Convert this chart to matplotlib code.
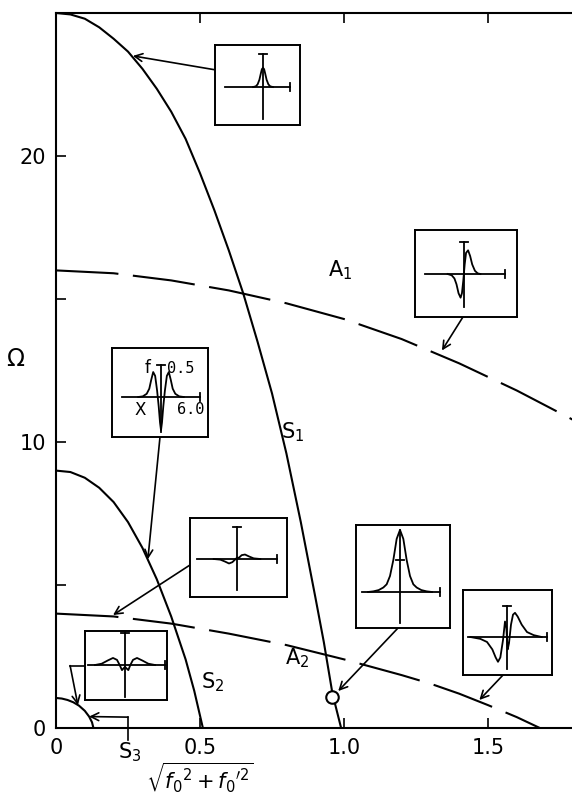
import matplotlib.pyplot as plt

# dispersion branches: sqrt(f0^2 + f0'^2) vs Omega
s1_x = [0.0, 0.05, 0.1, 0.15, 0.2, 0.25, 0.3, 0.35, 0.4, 0.45, 0.5, 0.55, 0.6, 0.65, 0.7, 0.75, 0.8, 0.85, 0.9, 0.93, 0.96, 0.99]
s1_y = [25.0, 24.95, 24.8, 24.5, 24.1, 23.65, 23.05, 22.35, 21.55, 20.6, 19.4, 18.1, 16.7, 15.2, 13.5, 11.7, 9.6, 7.2, 4.6, 3.0, 1.2, 0.0]
a1_x = [0.0, 0.2, 0.4, 0.6, 0.8, 1.0, 1.2, 1.4, 1.6, 1.8]
a1_y = [16.0, 15.9, 15.65, 15.3, 14.85, 14.3, 13.6, 12.75, 11.8, 10.75]
s2_x = [0.0, 0.05, 0.1, 0.15, 0.2, 0.25, 0.3, 0.35, 0.4, 0.45, 0.48, 0.51]
s2_y = [9.0, 8.95, 8.75, 8.4, 7.9, 7.2, 6.3, 5.2, 3.9, 2.4, 1.3, 0.0]
a2_x = [0.0, 0.2, 0.4, 0.6, 0.8, 1.0, 1.2, 1.3, 1.4, 1.5, 1.6, 1.68]
a2_y = [4.0, 3.9, 3.65, 3.3, 2.9, 2.4, 1.85, 1.55, 1.2, 0.8, 0.38, 0.0]
s3_x = [0.0, 0.02, 0.04, 0.06, 0.08, 0.1, 0.115, 0.125, 0.13]
s3_y = [1.05, 1.03, 0.98, 0.9, 0.78, 0.6, 0.4, 0.2, 0.0]

# profiles shown in the small boxes (x in units of 6.0 per axis, f with cap at 0.5)
p1_x = [-2.2, -1.6, -1.2, -0.8, -0.5, -0.25, 0.0, 0.25, 0.5, 0.8, 1.2, 1.6, 2.2]
p1_f = [0.0, 0.01, 0.04, 0.11, 0.2, 0.27, 0.29, 0.27, 0.2, 0.11, 0.04, 0.01, 0.0]
p2_x = [-2.4, -1.8, -1.4, -1.1, -0.8, -0.5, -0.3, -0.1, 0.1, 0.3, 0.6, 0.9, 1.2, 1.6, 2.0, 2.4]
p2_f = [0.0, -0.02, -0.07, -0.16, -0.3, -0.37, -0.3, -0.1, 0.15, 0.33, 0.37, 0.28, 0.15, 0.05, 0.01, 0.0]
p3_x = [-3.5, -2.8, -2.2, -1.8, -1.5, -1.2, -0.9, -0.6, -0.35, -0.15, 0.0, 0.15, 0.35, 0.6, 0.9, 1.2, 1.5, 1.8, 2.2, 2.8, 3.5]
p3_f = [0.0, 0.01, 0.05, 0.13, 0.27, 0.39, 0.33, 0.1, -0.15, -0.4, -0.52, -0.4, -0.15, 0.1, 0.33, 0.39, 0.27, 0.13, 0.05, 0.01, 0.0]
p4_x = [-3.5, -2.5, -1.8, -1.2, -0.7, -0.3, 0.0, 0.3, 0.7, 1.2, 1.8, 2.5, 3.5]
p4_f = [0.0, -0.01, -0.04, -0.07, -0.05, -0.01, 0.02, 0.02, 0.06, 0.07, 0.04, 0.01, 0.0]
p5_x = [-4.5, -3.5, -2.6, -1.8, -1.2, -0.8, -0.45, -0.2, 0.0, 0.2, 0.5, 0.8, 1.2, 1.8, 2.6, 3.5, 4.5]
p5_f = [0.0, 0.02, 0.07, 0.11, 0.08, 0.0, -0.08, -0.05, -0.03, -0.05, -0.08, 0.0, 0.08, 0.11, 0.07, 0.02, 0.0]
p6_x = [-4.8, -4.0, -3.2, -2.5, -2.0, -1.5, -1.0, -0.5, 0.0, 0.5, 1.0, 1.5, 2.0, 2.5, 3.2, 4.0, 4.8]
p6_f = [0.0, 0.01, 0.03, 0.07, 0.12, 0.25, 0.5, 0.83, 0.97, 0.83, 0.5, 0.25, 0.12, 0.07, 0.03, 0.01, 0.0]
p7_x = [-5.5, -4.0, -3.0, -2.2, -1.7, -1.35, -1.0, -0.6, -0.3, -0.1, 0.1, 0.3, 0.6, 0.9, 1.2, 1.6, 2.2, 3.0, 4.0, 5.2]
p7_f = [0.0, -0.03, -0.08, -0.2, -0.33, -0.4, -0.33, -0.05, 0.25, 0.15, -0.2, -0.1, 0.2, 0.36, 0.39, 0.33, 0.2, 0.08, 0.03, 0.0]

W, H = 572, 794
LW = 1.5

fig = plt.figure(figsize=(W / 100, H / 100), dpi=100)
ax = fig.add_axes([56 / W, 66 / H, 516 / W, 715 / H])
ax.set_xlim(0, 516 / 288)
ax.set_ylim(0, 715 / 28.6)

ax.plot(s1_x, s1_y, color="black", lw=LW)
ax.plot(s2_x, s2_y, color="black", lw=LW)
ax.plot(s3_x, s3_y, color="black", lw=LW)
ax.plot(a1_x, a1_y, color="black", lw=LW, dashes=(30, 7))
ax.plot(a2_x, a2_y, color="black", lw=LW, dashes=(30, 7))
ax.plot([0.96], [1.08], marker="o", ms=9, mfc="white", mec="black", mew=1.5)

for sp in ["left", "bottom", "top"]:
    ax.spines[sp].set_linewidth(LW)
ax.spines["right"].set_visible(False)
ax.set_xticks([0, 0.5, 1.0, 1.5], ["0", "0.5", "1.0", "1.5"])
ax.set_yticks([0, 5, 10, 15, 20], ["0", "", "10", "", "20"])
ax.tick_params(direction="in", length=7, width=1.2, labelsize=15, top=True, pad=7)

ax.set_ylabel("Ω", rotation=0, fontsize=17)
ax.yaxis.set_label_coords(-0.079, 0.5)
ax.set_xlabel(r"$\sqrt{f_0{}^2+f_0{}^{\prime 2}}$", fontsize=15, va="center")
ax.xaxis.set_label_coords(0.279, -0.069)

lab = dict(fontsize=15, ha="center", va="center")
ax.text(0.823, 10.35, r"S$_1$", **lab)
ax.text(0.986, 16.0, r"A$_1$", **lab)
ax.text(0.545, 1.6, r"S$_2$", **lab)
ax.text(0.837, 2.45, r"A$_2$", **lab)
ax.text(0.257, -0.84, r"S$_3$", clip_on=False, **lab)


def inset(box, origin, xcap, vtop, hleft, vbot, xs, fs, tick=None):
    l, t, r, b = box
    ox, oy = origin
    sx = (xcap - ox) / 6.0
    sy = (oy - vtop) / 0.5 if tick is None else (oy - tick) / 0.5
    ia = fig.add_axes([l / W, 1 - b / H, (r - l) / W, (b - t) / H])
    ia.set_xlim((l - ox) / sx, (r - ox) / sx)
    ia.set_ylim((oy - b) / sy, (oy - t) / sy)
    ia.set_xticks([])
    ia.set_yticks([])
    for sp in ia.spines.values():
        sp.set_linewidth(1.4)
    k = dict(color="black", lw=1.3)
    # little axes with end caps
    ia.plot([(hleft - ox) / sx, 6.0], [0, 0], **k)
    ia.plot([6.0, 6.0], [-4 / sy, 4 / sy], **k)
    ia.plot([0, 0], [(oy - vbot) / sy, (oy - vtop) / sy], **k)
    ia.plot([-4 / sx, 4 / sx], [0.5, 0.5], **k)
    ia.plot(xs, fs, color="black", lw=1.3)
    return ia


arr = dict(arrowstyle="->", color="black", lw=1.2, mutation_scale=14, shrinkA=0, shrinkB=0)

b1 = inset((215, 45, 300, 125), (263, 87), 290, 54, 225, 119, p1_x, p1_f)
ax.annotate("", xy=(0.267, 23.5), xytext=(0, 0.69), textcoords=b1.transAxes, arrowprops=arr)

b2 = inset((415, 230, 517, 317), (464, 274), 505, 242, 425, 307, p2_x, p2_f)
ax.annotate("", xy=(1.34, 13.2), xytext=(0.47, 0), textcoords=b2.transAxes, arrowprops=arr)

b3 = inset((112, 348, 208, 437), (161, 397), 200, 365, 122, 432, p3_x, p3_f)
b3.text(-2.1, 0.45, "f", fontsize=12, ha="center", va="center")
b3.text(3.0, 0.45, "0.5", fontsize=11, family="DejaVu Sans Mono", ha="center", va="center")
b3.text(-3.2, -0.2, "X", fontsize=12, ha="center", va="center")
b3.text(4.5, -0.2, "6.0", fontsize=11, family="DejaVu Sans Mono", ha="center", va="center")
ax.annotate("", xy=(0.319, 5.9), xytext=(0.5, 0), textcoords=b3.transAxes, arrowprops=arr)

b4 = inset((190, 518, 287, 597), (237, 559), 277, 527, 197, 590, p4_x, p4_f)
ax.annotate("", xy=(0.198, 3.95), xytext=(0, 0.405), textcoords=b4.transAxes, arrowprops=arr)

b5 = inset((85, 631, 167, 700), (125, 665), 165, 633, 88, 697, p5_x, p5_f)
ax.plot([0.101, 0.049], [2.18, 2.18], color="black", lw=1.2)
ax.annotate("", xy=(0.076, 0.8), xytext=(0.049, 2.18), arrowprops=arr)

# bracket from the S3 label to its curve
ax.plot([0.25, 0.25], [-0.42, 0.38], color="black", lw=1.2, clip_on=False)
ax.annotate("", xy=(0.115, 0.4), xytext=(0.25, 0.38), arrowprops=arr)

b6 = inset((356, 525, 450, 628), (400, 592), 440, 530, 362, 623, p6_x, p6_f, tick=560)
ax.annotate("", xy=(0.96, 1.08), xytext=(0.447, 0), textcoords=b6.transAxes,
            arrowprops=dict(arr, shrinkB=6))

b7 = inset((463, 590, 552, 675), (507, 637), 547, 606, 468, 669, p7_x, p7_f)
ax.annotate("", xy=(1.47, 0.98), xytext=(0.45, 0), textcoords=b7.transAxes, arrowprops=arr)

fig.savefig("out.png", dpi=100)
